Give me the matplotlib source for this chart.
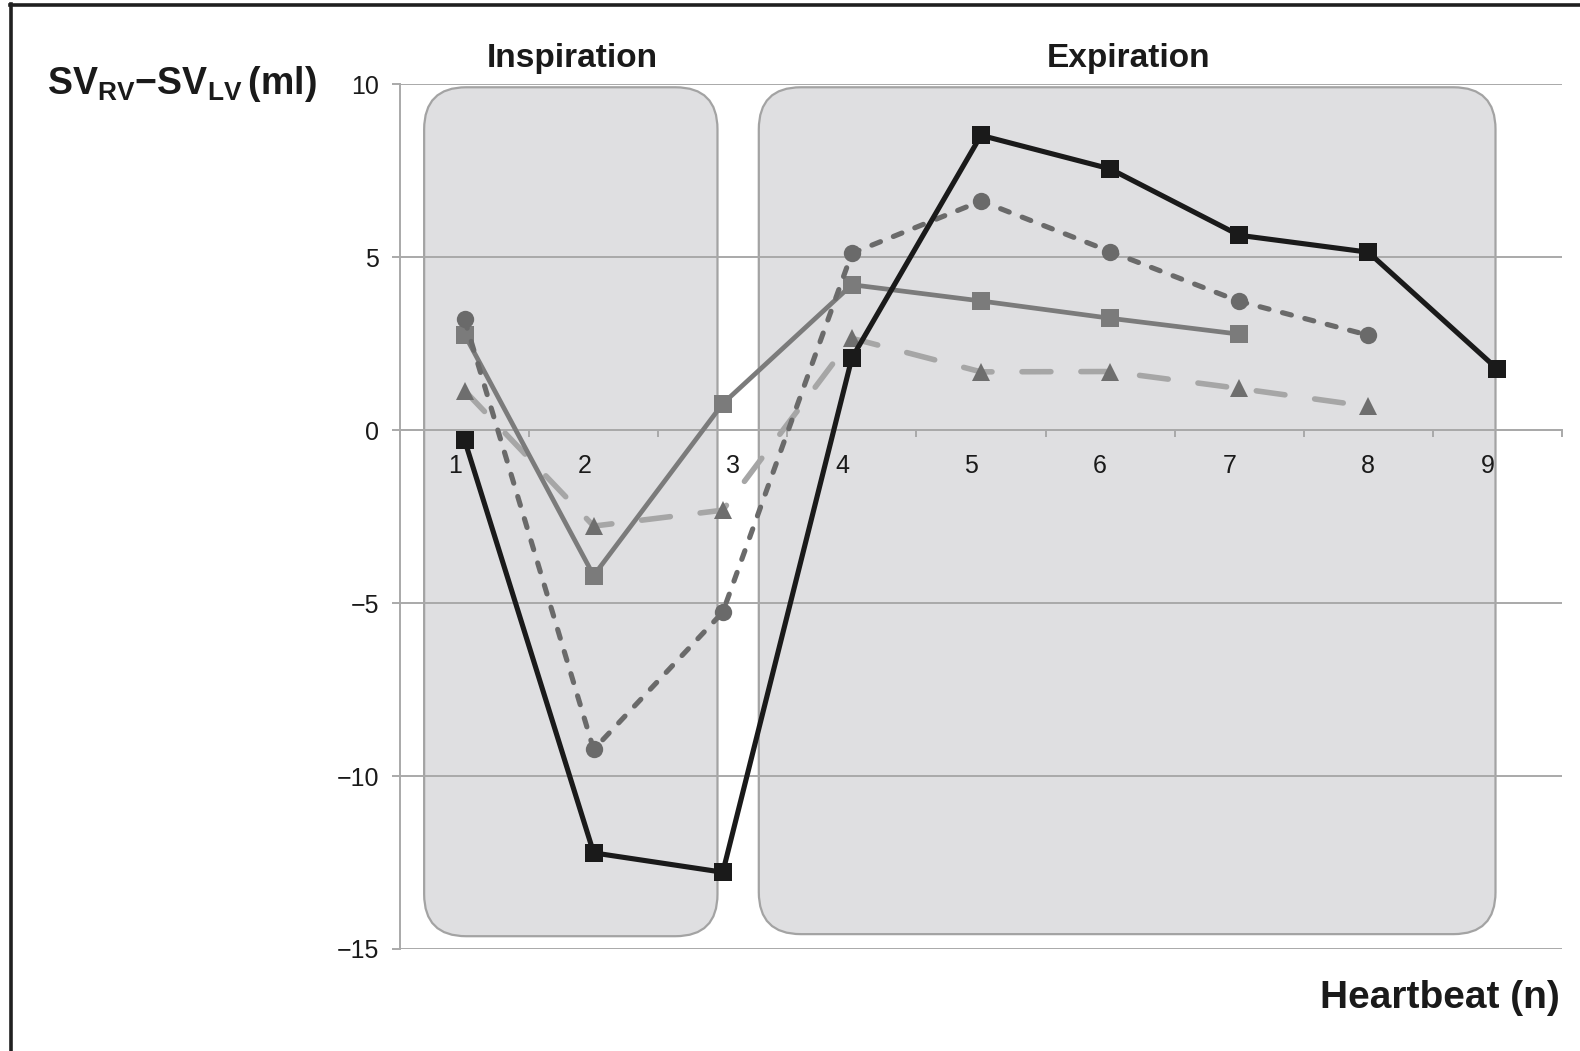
import matplotlib
matplotlib.use("Agg")
import matplotlib.pyplot as plt
from matplotlib.patches import FancyBboxPatch
from matplotlib.lines import Line2D
from matplotlib.ticker import FixedLocator, NullFormatter
import matplotlib.transforms as mtransforms

plt.rcParams["font.family"] = ["Liberation Sans", "DejaVu Sans"]
plt.rcParams["mathtext.fontset"] = "custom"
plt.rcParams["mathtext.rm"] = "Liberation Sans"
plt.rcParams["mathtext.bf"] = "Liberation Sans:bold"

# Heartbeat index
beats = [1, 2, 3, 4, 5, 6, 7, 8, 9]
tick_labels = ["1", "2", "3", "4", "5", "6", "7", "8", "9"]

# SV_RV - SV_LV (ml) per heartbeat for each recording
series_black = [-0.28, -12.22, -12.78, 2.09, 8.53, 7.56, 5.64, 5.15, 1.77]
series_gray_sq = [2.77, -4.2, 0.77, 4.21, 3.74, 3.24, 2.78]
series_circle = [3.21, -9.23, -5.26, 5.12, 6.63, 5.17, 3.73, 2.75]
series_triangle = [1.15, -2.77, -2.31, 2.66, 1.69, 1.7, 1.21, 0.69]

# Respiratory phases: label and beat-axis extent of each shaded panel
phase_names = ["Inspiration", "Expiration"]
phase_spans = [(0.687, 2.959), (3.279, 8.985)]
phase_bottoms = [-14.63, -14.57]
phase_top = 9.92

yticks = [-15, -10, -5, 0, 5, 10]

W, H = 1580, 1051
fig = plt.figure(figsize=(W / 100, H / 100), dpi=100)
ax_left, ax_right, ax_top, ax_bot = 400, 1562, 84.5, 949
ax = fig.add_axes([ax_left / W, (H - ax_bot) / H,
                   (ax_right - ax_left) / W, (ax_bot - ax_top) / H])
ax.set_xlim(0.5, 9.5)
ax.set_ylim(-15, 10)

grid_col = "#a9a9a9"

# spines / axes lines
for s in ["top", "right"]:
    ax.spines[s].set_visible(False)
ax.spines["left"].set_color(grid_col)
ax.spines["left"].set_linewidth(1.4)
ax.spines["bottom"].set_position(("data", 0))
ax.spines["bottom"].set_color(grid_col)
ax.spines["bottom"].set_linewidth(1.4)
ax.spines["left"].set_zorder(1.2)
ax.spines["bottom"].set_zorder(1.2)

ax.set_yticks(yticks)
ax.set_yticklabels(["\u221215", "\u221210", "\u22125", "0", "5", "10"])
ax.tick_params(axis="y", length=5.8, width=1.4, color=grid_col, pad=9.4,
               labelsize=18, labelcolor="#1a1a1a")
ax.yaxis.grid(True, color=grid_col, linewidth=1.4, zorder=1)
ax.set_axisbelow(True)

ax.set_xticks(beats)
ax.set_xticklabels(tick_labels)
ax.xaxis.set_minor_locator(FixedLocator([b + 0.5 for b in [0] + beats]))
ax.xaxis.set_minor_formatter(NullFormatter())
ax.tick_params(axis="x", which="major", length=0, pad=17, labelsize=18,
               labelcolor="#1a1a1a")
ax.tick_params(axis="x", which="minor", length=5, width=1.4, color=grid_col,
               direction="out")

# nudge the beat labels slightly
nudges = {0: -9, 1: -9, 2: 10, 3: -9.5, 4: -10.5, 5: -10, 6: -10, 7: 0, 8: -10}
for i, lab in enumerate(ax.get_xticklabels()):
    off = mtransforms.ScaledTranslation(nudges.get(i, 0) / 100, 0, fig.dpi_scale_trans)
    lab.set_transform(lab.get_transform() + off)

# rounded phase panels, with corner radius kept round in pixel space
fig.canvas.draw()
p0 = ax.transData.transform((0, 0))
p1 = ax.transData.transform((1, 1))
px_per_x = p1[0] - p0[0]
px_per_y = p1[1] - p0[1]
aspect = px_per_x / px_per_y
radius_px = 42
for (x0, x1), yb in zip(phase_spans, phase_bottoms):
    patch = FancyBboxPatch((x0, yb), x1 - x0, phase_top - yb,
                           boxstyle=f"round,pad=0,rounding_size={radius_px / px_per_x}",
                           mutation_aspect=aspect,
                           facecolor="#dfdfe1", edgecolor="#a3a3a3",
                           linewidth=1.6, zorder=0.5)
    ax.add_patch(patch)

# series
ax.plot(beats[:len(series_triangle)], series_triangle, color="#a6a6a6",
        linewidth=4.0, dashes=(5.2, 5.4), dash_capstyle="round",
        marker="^", markersize=12.5, markerfacecolor="#6e6e6e",
        markeredgecolor="#6e6e6e", markeredgewidth=0, zorder=3)
ax.plot(beats[:len(series_gray_sq)], series_gray_sq, color="#7b7b7b",
        linewidth=3.4, marker="s", markersize=13.5,
        markeredgewidth=0, zorder=4)
ax.plot(beats[:len(series_circle)], series_circle, color="#6a6a6a",
        linewidth=3.7, dashes=(1.8, 2.7), dash_capstyle="round",
        marker="o", markersize=12.5, markeredgewidth=0, zorder=5)
ax.plot(beats, series_black, color="#1a1a1a", linewidth=3.7,
        marker="s", markersize=13, markeredgewidth=0, zorder=6)

# phase titles
fig.text(572 / W, 1 - 59 / H, phase_names[0], ha="center", va="center",
         fontsize=24, fontweight="bold", color="#1a1a1a")
fig.text(1129 / W, 1 - 59 / H, phase_names[1], ha="center", va="center",
         fontsize=24, fontweight="bold", color="#1a1a1a")

# axis titles
fig.text(47 / W, 1 - 84 / H, r"$\mathbf{SV_{RV}{-}SV_{LV}\,(ml)}$",
         ha="left", va="center", fontsize=27, color="#1a1a1a")
fig.text(1560 / W, 1 - 997.6 / H, "Heartbeat (n)", ha="right", va="center",
         fontsize=28, fontweight="bold", color="#1a1a1a")

# frame
fig.add_artist(Line2D([11.3 / W, 11.3 / W], [0, 1 - 4 / H], color="#202020",
                      linewidth=2.6, transform=fig.transFigure))
fig.add_artist(Line2D([10 / W, 1], [1 - 5 / H, 1 - 5 / H], color="#202020",
                      linewidth=2.6, transform=fig.transFigure))

fig.savefig("out.png", dpi=100)
